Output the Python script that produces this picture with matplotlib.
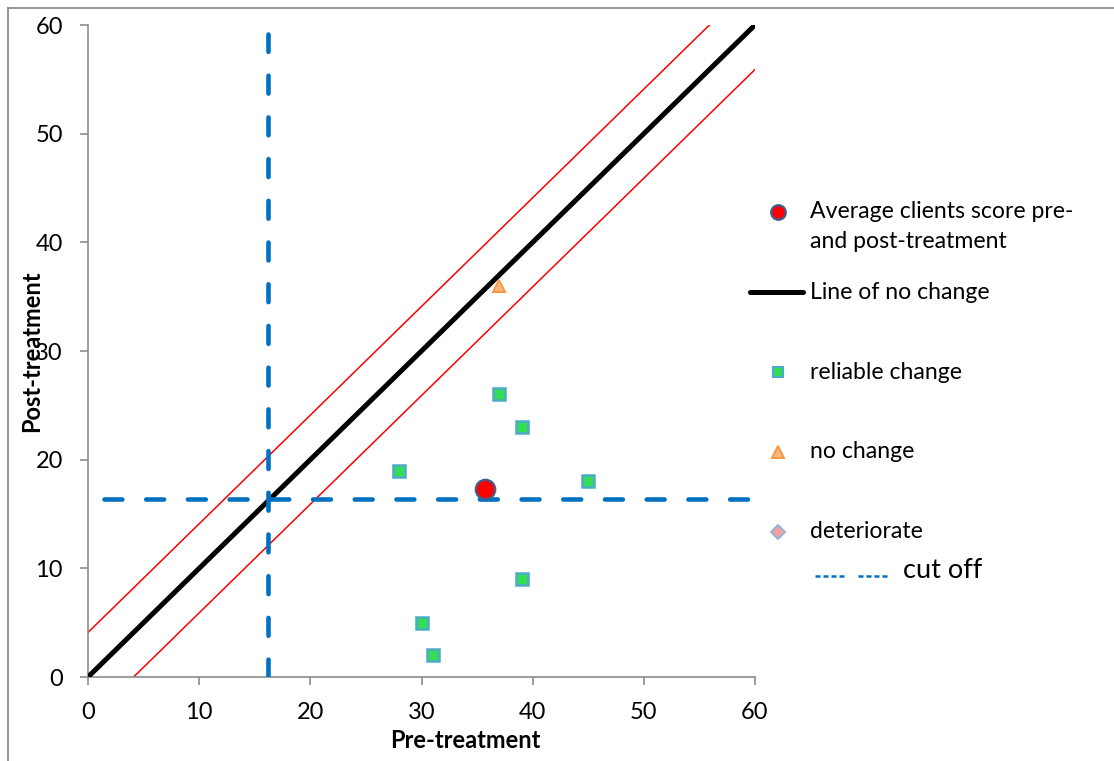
import matplotlib
matplotlib.use("Agg")
import matplotlib.pyplot as plt
from matplotlib.lines import Line2D
import numpy as np

plt.rcParams['font.family'] = ['Lato', 'DejaVu Sans']

# Individual client scores (pre, post)
reliable_pre = [28, 37, 39, 45, 39, 30, 31]
reliable_post = [19, 26, 23, 18, 9, 5, 2]
nochange_pre = [37]
nochange_post = [36]
deteriorate_pre = []
deteriorate_post = []

# Average client score
avg_pre = [35.7]
avg_post = [17.3]

# Line of no change and reliable change band
diag_x = [0, 60]
band_offset = 4.1

# Clinical cut-off
cutoff_pre = 16.2
cutoff_post = 16.4

axis_ticks = [0, 10, 20, 30, 40, 50, 60]

W, H = 1114, 761
fig = plt.figure(figsize=(W / 100, H / 100), dpi=100)
ax = fig.add_axes([88 / W, 1 - 677 / H, (755 - 88) / W, (677 - 25) / H])

grey = '#8c8c8c'
blue = '#0070c0'

# Reliable change band around the line of no change
dx = np.array(diag_x, dtype=float)
ax.plot(dx, dx + band_offset, color='#ff0000', lw=1.1, zorder=2)
ax.plot(dx, dx - band_offset, color='#ff0000', lw=1.1, zorder=2)
ax.plot(dx, dx, color='black', lw=3.6, zorder=3, solid_capstyle='butt')

# Cut-off lines
dash_kw = dict(color=blue, lw=3.3, dashes=(3.9, 5.2), dash_capstyle='round', zorder=4)
ax.plot([1.4, 60], [cutoff_post, cutoff_post], **dash_kw)
ax.plot([cutoff_pre, cutoff_pre], [0, 59.2], **dash_kw)

# Client markers
ax.plot(reliable_pre, reliable_post, ls='none', marker='s', ms=8.8,
        mfc='#33dd55', mec='#4bacc6', mew=1.8, zorder=5)
ax.plot(nochange_pre, nochange_post, ls='none', marker='^', ms=8.5,
        mfc='#f9b77f', mec='#f79646', mew=1.4, zorder=5)
ax.plot(deteriorate_pre, deteriorate_post, ls='none', marker='D', ms=7,
        mfc='#f4a0a0', mec='#95b3d7', mew=1.4, zorder=5)
ax.plot(avg_pre, avg_post, ls='none', marker='o', ms=14,
        mfc='#ff0000', mec='#3e5f8f', mew=1.6, zorder=6)

ax.set_xlim(0, 60)
ax.set_ylim(0, 60)
ax.set_xticks(axis_ticks)
ax.set_yticks(axis_ticks)
for s in ('top', 'right'):
    ax.spines[s].set_visible(False)
for s in ('left', 'bottom'):
    ax.spines[s].set_color(grey)
    ax.spines[s].set_linewidth(1.2)
ax.tick_params(direction='out', length=6, width=1.2, color=grey,
               labelsize=17, pad=12)
ax.set_xlabel('Pre-treatment', fontsize=17, fontweight='bold')
ax.set_ylabel('Post-treatment', fontsize=17, fontweight='bold')
ax.xaxis.set_label_coords((465 - 88) / 667, (677 - 729) / 652)
ax.yaxis.set_label_coords((43 - 88) / 667, 0.5)

# Legend drawn in figure pixel coordinates
def fx(px):
    return px / W

def fy(py):
    return 1 - py / H

tx = fx(810)
fs = 16.6
fig.add_artist(Line2D([fx(778)], [fy(212)], ls='none', marker='o', ms=10.5,
                      mfc='#ff0000', mec='#3e5f8f', mew=1.6))
fig.text(tx, fy(212), 'Average clients score pre-', fontsize=fs, va='center')
fig.text(tx, fy(241), 'and post-treatment', fontsize=fs, va='center')
fig.add_artist(Line2D([fx(750), fx(803)], [fy(292), fy(292)], color='black',
                      lw=3.6, solid_capstyle='round'))
fig.text(tx, fy(292), 'Line of no change', fontsize=fs, va='center')
fig.add_artist(Line2D([fx(778)], [fy(372)], ls='none', marker='s', ms=7.5,
                      mfc='#33dd55', mec='#4bacc6', mew=1.5))
fig.text(tx, fy(372), 'reliable change', fontsize=fs, va='center')
fig.add_artist(Line2D([fx(778)], [fy(452)], ls='none', marker='^', ms=8,
                      mfc='#f9b77f', mec='#f79646', mew=1.4))
fig.text(tx, fy(452), 'no change', fontsize=fs, va='center')
fig.add_artist(Line2D([fx(778)], [fy(532)], ls='none', marker='D', ms=7,
                      mfc='#f4a0a0', mec='#95b3d7', mew=1.4))
fig.text(tx, fy(532), 'deteriorate', fontsize=fs, va='center')
for x0, x1 in ((815, 845), (858, 888)):
    fig.add_artist(Line2D([fx(x0), fx(x1)], [fy(576), fy(576)], color=blue,
                          lw=1.8, dashes=(2.0, 1.2)))
fig.text(fx(903), fy(570), 'cut off', fontsize=19.5, va='center')

# Chart frame
fig.add_artist(Line2D([fx(8), fx(8)], [fy(8), 0], color=grey, lw=1.3))
fig.add_artist(Line2D([fx(8), 1], [fy(8), fy(8)], color=grey, lw=1.3))

fig.savefig('out.png', dpi=100)
